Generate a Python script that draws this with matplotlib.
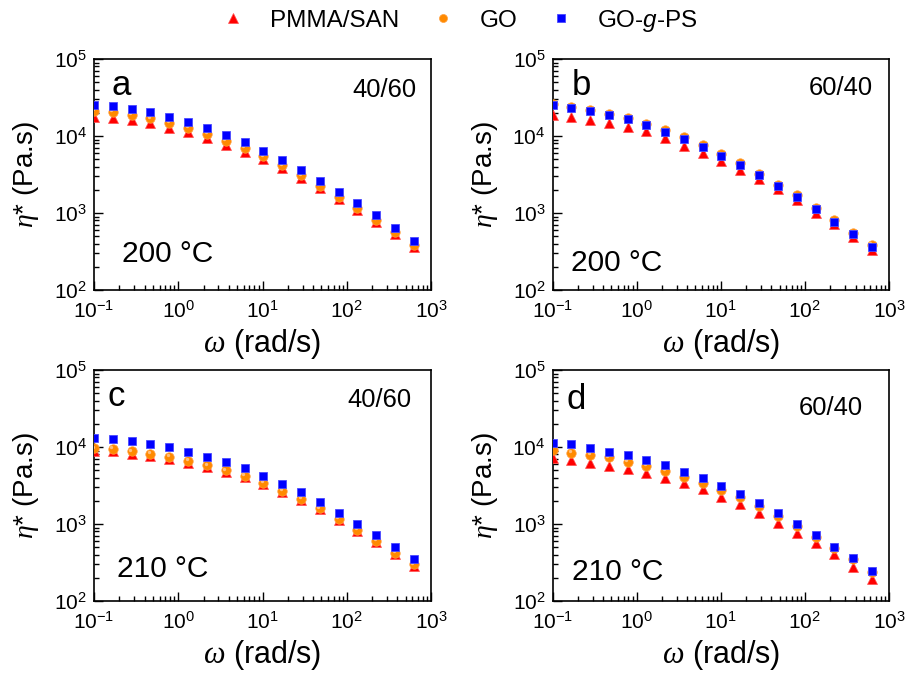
import matplotlib
matplotlib.use("Agg")
import matplotlib.pyplot as plt
from matplotlib.ticker import LogLocator, NullFormatter
import matplotlib.transforms as mtransforms

plt.rcParams['font.family'] = ['Liberation Sans', 'DejaVu Sans']
plt.rcParams['mathtext.fontset'] = 'custom'
plt.rcParams['mathtext.rm'] = 'Liberation Sans'
plt.rcParams['mathtext.it'] = 'Liberation Serif:italic'
plt.rcParams['mathtext.sf'] = 'Liberation Sans:italic'
plt.rcParams['axes.unicode_minus'] = False

# angular frequency (rad/s)
omega = [0.1, 0.167, 0.280, 0.468, 0.782, 1.31, 2.19, 3.66, 6.12, 10.2,
         17.1, 28.6, 47.8, 80.0, 134, 224, 374, 626]

series_names = ["PMMA/SAN", "GO", "GO-$\\mathsf{g}$-PS"]

# panel a: 40/60, 200 °C
a_pmma = [17700, 17100, 15900, 14600, 12800, 11200, 9400, 7730, 6290, 4960,
          3840, 2840, 2100, 1530, 1085, 765, 538, 365]
a_go = [21200, 20500, 18700, 17000, 14900, 12800, 10700, 8700, 7000, 5450,
        4150, 3070, 2240, 1620, 1160, 815, 565, 388]
a_gops = [25300, 24500, 22400, 20300, 17800, 15300, 12700, 10300, 8280, 6440,
          4880, 3610, 2620, 1890, 1340, 933, 644, 437]

# panel b: 60/40, 200 °C
b_pmma = [18800, 17900, 16200, 14600, 12900, 11450, 9400, 7400, 6100, 4770,
          3610, 2750, 2020, 1475, 1010, 713, 490, 330]
b_go = [25800, 23800, 22000, 19500, 17000, 14300, 11800, 9600, 7600, 5800,
        4400, 3250, 2330, 1690, 1170, 805, 555, 385]
b_gops = [25300, 23400, 21300, 18900, 16500, 13800, 11300, 9140, 7260, 5550,
          4200, 3120, 2240, 1620, 1120, 771, 533, 366]

# panel c: 40/60, 210 °C
c_pmma = [9000, 8800, 8200, 7600, 7000, 6250, 5500, 4750, 4050, 3280,
          2620, 2040, 1550, 1130, 815, 585, 405, 283]
c_go = [9600, 9500, 8800, 8100, 7450, 6600, 5800, 5000, 4220, 3400,
        2720, 2110, 1600, 1170, 845, 610, 422, 298]
c_gops = [12970, 12830, 11860, 10840, 9910, 8690, 7480, 6380, 5290, 4200,
          3340, 2580, 1930, 1400, 1000, 720, 498, 351]

# panel d: 60/40, 210 °C
d_pmma = [7300, 6770, 6250, 5720, 5180, 4550, 3990, 3380, 2820, 2270,
          1800, 1380, 1040, 771, 561, 404, 274, 191]
d_go = [9140, 8440, 7870, 7350, 6440, 5660, 4920, 4110, 3440, 2770,
        2270, 1710, 1270, 942, 684, 492, 348, 240]
d_gops = [11370, 10840, 9710, 8690, 7800, 6770, 5830, 4770, 3990, 3120,
          2430, 1860, 1380, 1000, 720, 507, 359, 248]

panels = [
    ("a", "40/60", "200 °C", a_pmma, a_go, a_gops),
    ("b", "60/40", "200 °C", b_pmma, b_go, b_gops),
    ("c", "40/60", "210 °C", c_pmma, c_go, c_gops),
    ("d", "60/40", "210 °C", d_pmma, d_go, d_gops),
]

W, H = 907, 676
fig = plt.figure(figsize=(W / 100, H / 100), dpi=100)

# axes boxes in pixels: left, top, right, bottom
boxes = [(94, 59, 431, 290), (552.5, 59, 889, 290),
         (94, 370, 431, 601), (552.5, 370, 889, 601)]

letter_pos = [(0.053, 0.844), (0.056, 0.844), (0.040, 0.844), (0.0415, 0.83)]
ratio_pos = [(0.958, 0.837), (0.951, 0.844), (0.943, 0.841), (0.921, 0.805)]
temp_pos = [(0.082, 0.1225), (0.056, 0.0835), (0.067, 0.105), (0.057, 0.091)]

red = '#ff0000'
orange = '#ff8a00'
blue = '#0000ff'

handles = None
for i, (box, pan) in enumerate(zip(boxes, panels)):
    l, t, r, b = box
    ax = fig.add_axes([l / W, 1 - b / H, (r - l) / W, (b - t) / H])
    letter, ratio, temp, yp, yg, yb = pan
    h1, = ax.plot(omega, yp, ls='none', marker='^', ms=7.8, color=red,
                  mec='#ff5050', mew=0.5, zorder=3)
    h2, = ax.plot(omega, yg, ls='none', marker='o', ms=6.8, color=orange,
                  mec='#ffa040', mew=0.5, zorder=4)
    # highlight for ball-like look
    off = mtransforms.offset_copy(ax.transData, fig=fig, x=-1.0, y=1.2, units='points')
    ax.plot(omega, yg, ls='none', marker='o', ms=2.4, color='#ffc080',
            mew=0, transform=off, zorder=4.5)
    h3, = ax.plot(omega, yb, ls='none', marker='s', ms=6.2, color=blue,
                  mec='#4a4aff', mew=0.6, zorder=5)
    if handles is None:
        handles = [h1, h2, h3]
    ax.set_xscale('log')
    ax.set_yscale('log')
    ax.set_xlim(0.1, 1000)
    ax.set_ylim(100, 100000)
    ax.xaxis.set_major_locator(LogLocator(base=10, numticks=10))
    ax.xaxis.set_minor_locator(LogLocator(base=10, subs=range(2, 10), numticks=20))
    ax.yaxis.set_major_locator(LogLocator(base=10, numticks=10))
    ax.yaxis.set_minor_locator(LogLocator(base=10, subs=range(2, 10), numticks=20))
    ax.xaxis.set_minor_formatter(NullFormatter())
    ax.yaxis.set_minor_formatter(NullFormatter())
    ax.tick_params(which='both', direction='in', top=False, right=False,
                   width=1.0, labelsize=15, colors='black')
    ax.tick_params(which='major', length=6.5)
    ax.tick_params(which='minor', length=3.5)
    ax.tick_params(axis='y', which='major', pad=5)
    ax.tick_params(axis='x', which='major', pad=7)
    for sp in ax.spines.values():
        sp.set_linewidth(1.2)
        sp.set_color('black')
    ax.set_xlabel(r'$\omega$ (rad/s)', fontsize=22, labelpad=4)
    ax.set_ylabel(r'$\eta$* (Pa.s)', fontsize=20, labelpad=9)
    ax.text(*letter_pos[i], letter, transform=ax.transAxes, fontsize=25,
            ha='left', va='baseline')
    ax.text(*ratio_pos[i], ratio, transform=ax.transAxes, fontsize=18.4,
            ha='right', va='baseline')
    ax.text(*temp_pos[i], temp, transform=ax.transAxes, fontsize=21.5,
            ha='left', va='baseline')

fig.legend(handles, series_names, loc='center', bbox_to_anchor=(0.5, 1 - 21 / H),
           ncol=3, frameon=False, fontsize=17.5, handlelength=2.0,
           handletextpad=0.5, columnspacing=0.8, markerscale=0.85)

fig.savefig('out.png', dpi=100)
